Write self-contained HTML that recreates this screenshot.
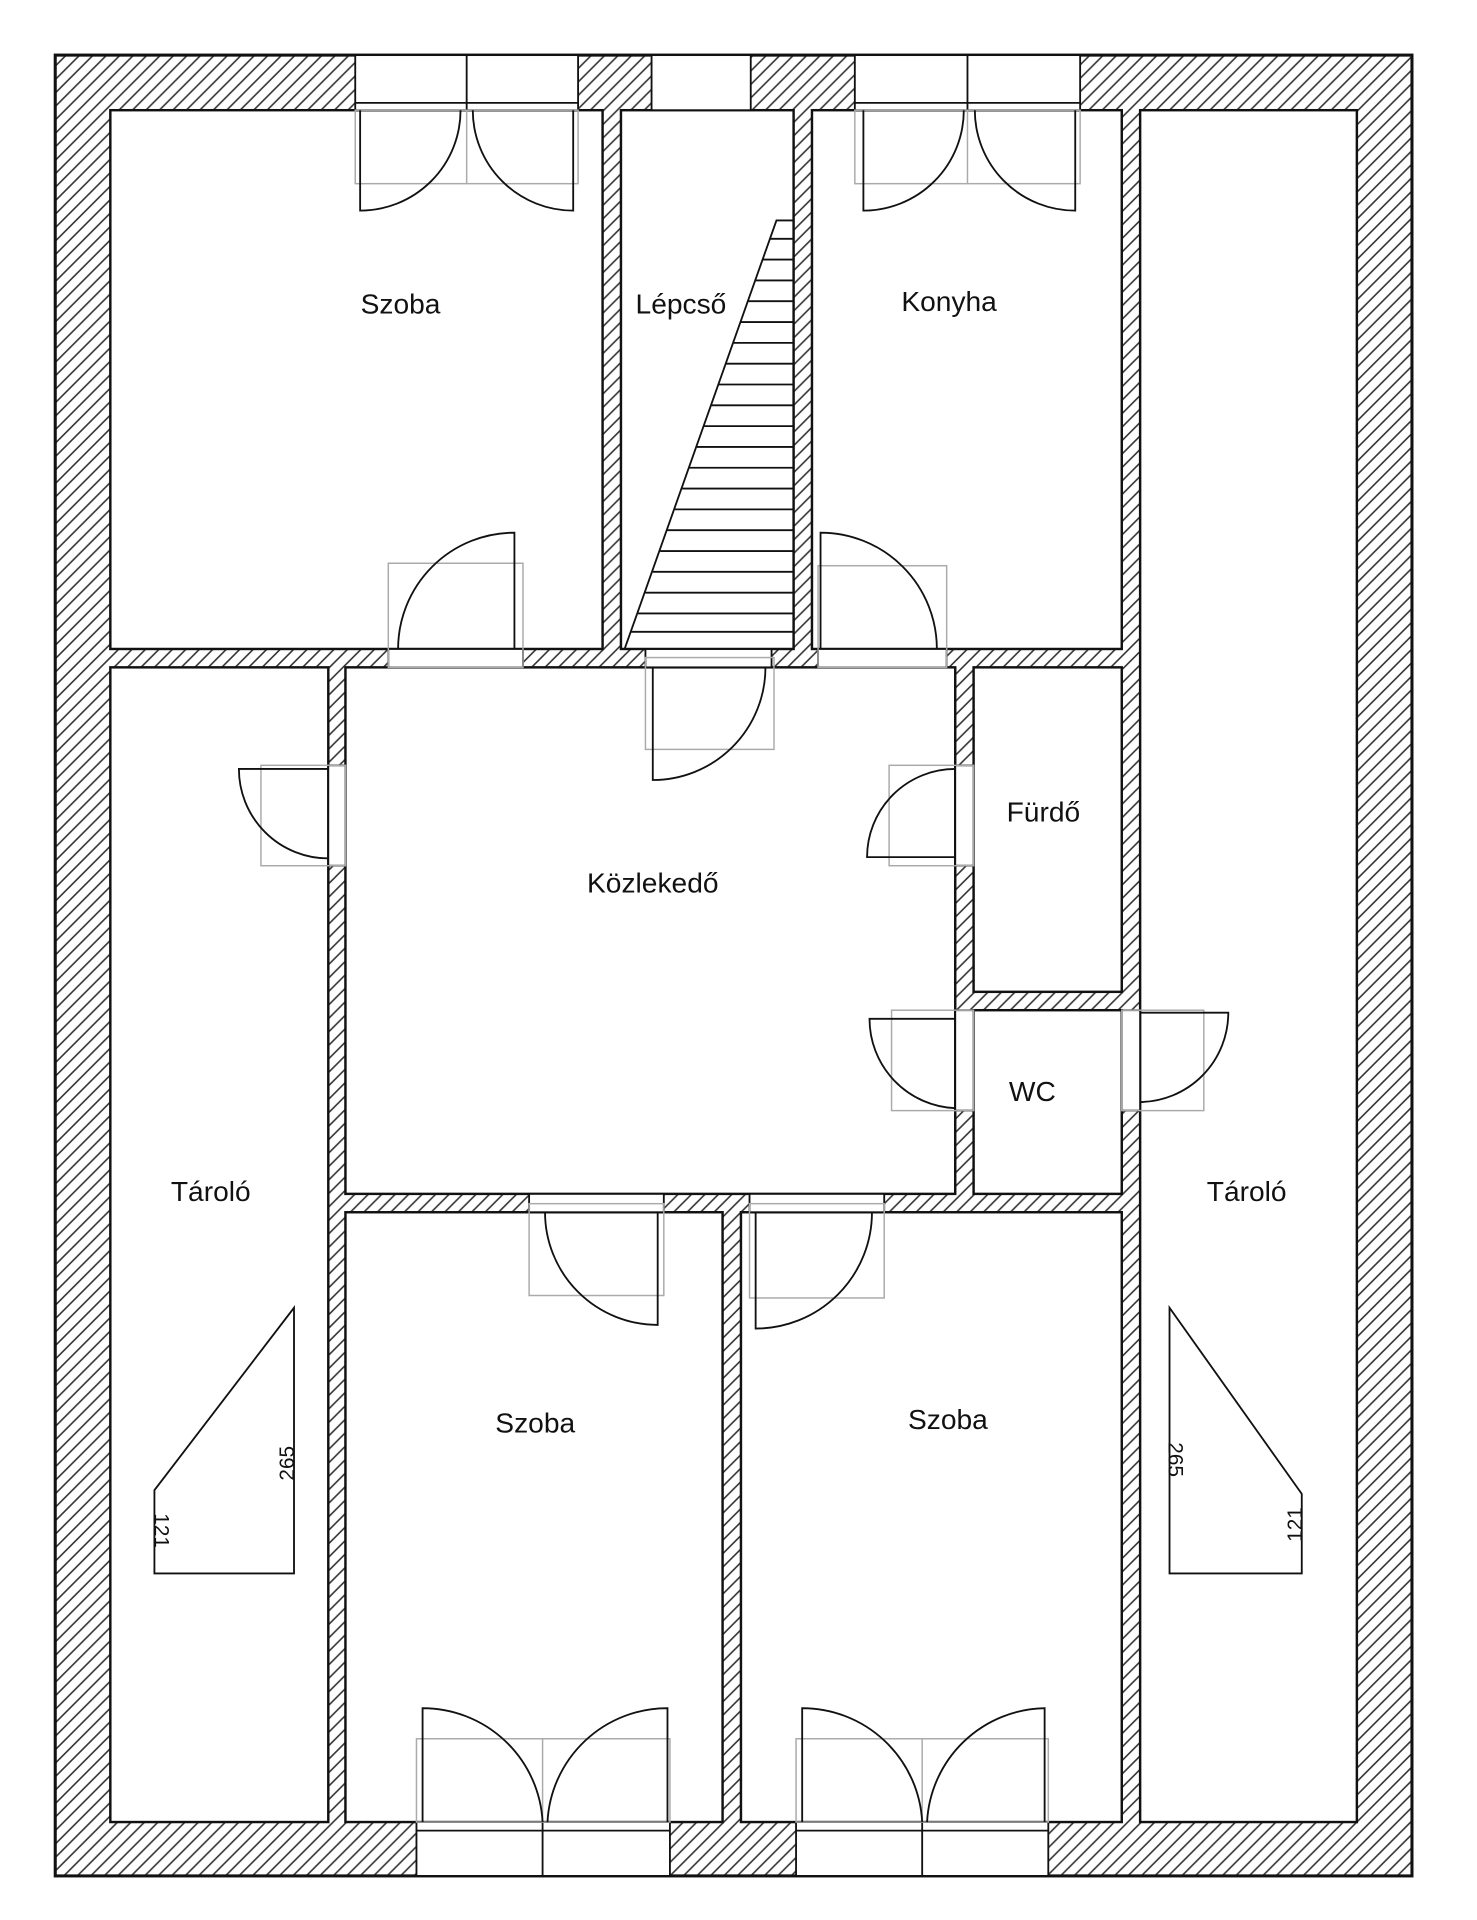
<!DOCTYPE html>
<html><head><meta charset="utf-8"><style>html,body{margin:0;padding:0;background:#fff}svg{display:block}</style></head><body>
<svg width="1477" height="1920" viewBox="0 0 1206 1568" xmlns="http://www.w3.org/2000/svg" font-family="Liberation Sans, sans-serif">
<defs><pattern id="h" width="11" height="11" patternUnits="userSpaceOnUse"><path d="M-1,12 L12,-1 M-6,6 L6,-6 M5,17 L17,5" stroke="#333" stroke-width="1.3"/></pattern></defs>
<rect x="45" y="45" width="1108" height="1487" fill="url(#h)" stroke="#111" stroke-width="2.5"/>
<g fill="#fff" stroke="#111" stroke-width="2">
<rect x="90" y="90" width="402" height="440"/>
<rect x="507" y="90" width="141" height="440"/>
<rect x="663" y="90" width="253" height="440"/>
<rect x="931" y="90" width="177" height="1398"/>
<rect x="90" y="545" width="178" height="943"/>
<rect x="282" y="545" width="498" height="430"/>
<rect x="795" y="545" width="121" height="265"/>
<rect x="795" y="825" width="121" height="150"/>
<rect x="282" y="990" width="308" height="498"/>
<rect x="605" y="990" width="311" height="498"/>
</g>
<g fill="#fff" stroke="#111" stroke-width="1.5">
<rect x="290" y="45" width="182" height="45"/><line x1="381" y1="45" x2="381" y2="90"/><line x1="290" y1="84" x2="472" y2="84"/>
<rect x="532" y="45" width="81" height="45"/>
<rect x="698" y="45" width="184" height="45"/><line x1="790" y1="45" x2="790" y2="90"/><line x1="698" y1="84" x2="882" y2="84"/>
<rect x="340" y="1488" width="207" height="44"/><line x1="443" y1="1488" x2="443" y2="1532"/><line x1="340" y1="1495" x2="547" y2="1495"/>
<rect x="650" y="1488" width="206" height="44"/><line x1="753" y1="1488" x2="753" y2="1532"/><line x1="650" y1="1495" x2="856" y2="1495"/>
<rect x="317" y="530" width="110" height="15"/>
<rect x="668" y="530" width="105" height="15"/>
<rect x="527" y="530" width="103" height="15"/>
<rect x="268" y="625" width="14" height="82"/>
<rect x="780" y="625" width="15" height="82"/>
<rect x="780" y="825" width="15" height="82"/>
<rect x="916" y="825" width="15" height="82"/>
<rect x="432" y="975" width="110" height="15"/>
<rect x="612" y="975" width="110" height="15"/>
</g>
<g fill="none" stroke="#aaa" stroke-width="1.2">
<rect x="290" y="90" width="182" height="60"/><line x1="381" y1="90" x2="381" y2="150"/>
<rect x="698" y="90" width="184" height="60"/><line x1="790" y1="90" x2="790" y2="150"/>
<rect x="317" y="460" width="110" height="85"/>
<rect x="668" y="462" width="105" height="83"/>
<rect x="527" y="537" width="105" height="75"/>
<rect x="213" y="625" width="69" height="82"/>
<rect x="726" y="625" width="69" height="82"/>
<rect x="728" y="825" width="67" height="82"/>
<rect x="916" y="825" width="67" height="82"/>
<rect x="432" y="983" width="110" height="75"/>
<rect x="612" y="983" width="110" height="77"/>
<rect x="340" y="1420" width="207" height="68"/><line x1="443" y1="1420" x2="443" y2="1488"/>
<rect x="650" y="1420" width="206" height="68"/><line x1="753" y1="1420" x2="753" y2="1488"/>
</g>
<g fill="none" stroke="#111" stroke-width="1.5">
<path d="M294,90 V172 A82,82 0 0 0 376,90"/>
<path d="M468,90 V172 A82,82 0 0 1 386,90"/>
<path d="M705,90 V172 A82,82 0 0 0 787,90"/>
<path d="M878,90 V172 A82,82 0 0 1 796,90"/>
<path d="M420,530 V435 A95,95 0 0 0 325,530"/>
<path d="M670,530 V435 A95,95 0 0 1 765,530"/>
<path d="M533,545 V637 A92,92 0 0 0 625,545"/>
<path d="M268,628 H195 A73,73 0 0 0 268,701"/>
<path d="M780,700 H708 A72,72 0 0 1 780,628"/>
<path d="M780,832 H710 A73,73 0 0 0 780,905"/>
<path d="M931,827 H1003 A73,73 0 0 1 931,900"/>
<path d="M537,990 V1082 A92,92 0 0 1 445,990"/>
<path d="M617,990 V1085 A95,95 0 0 0 712,990"/>
<path d="M345,1488 V1395 A98,98 0 0 1 443,1488"/>
<path d="M545,1488 V1395 A98,98 0 0 0 447,1488"/>
<path d="M655,1488 V1395 A98,98 0 0 1 753,1488"/>
<path d="M853,1488 V1395 A98,98 0 0 0 757,1488"/>
</g>
<g fill="none" stroke="#111" stroke-width="1.5">
<path d="M510,530 L634,180 H648"/>
<line x1="510" y1="530" x2="648" y2="530"/>
<line x1="629" y1="195" x2="648" y2="195"/><line x1="623" y1="212" x2="648" y2="212"/><line x1="617" y1="229" x2="648" y2="229"/><line x1="611" y1="246" x2="648" y2="246"/><line x1="605" y1="263" x2="648" y2="263"/><line x1="599" y1="280" x2="648" y2="280"/><line x1="593" y1="297" x2="648" y2="297"/><line x1="587" y1="314" x2="648" y2="314"/><line x1="581" y1="331" x2="648" y2="331"/><line x1="575" y1="348" x2="648" y2="348"/><line x1="569" y1="365" x2="648" y2="365"/><line x1="563" y1="382" x2="648" y2="382"/><line x1="557" y1="399" x2="648" y2="399"/><line x1="551" y1="416" x2="648" y2="416"/><line x1="545" y1="433" x2="648" y2="433"/><line x1="539" y1="450" x2="648" y2="450"/><line x1="533" y1="467" x2="648" y2="467"/><line x1="527" y1="484" x2="648" y2="484"/><line x1="521" y1="501" x2="648" y2="501"/><line x1="515" y1="516" x2="648" y2="516"/>
<path d="M240,1068 V1285 H126 V1217 Z"/>
<path d="M955,1068 V1285 H1063 V1220 Z"/>
</g>
<g font-size="23" fill="#111" text-anchor="middle">
<text x="327" y="256">Szoba</text>
<text x="556" y="256">Lépcső</text>
<text x="775" y="254">Konyha</text>
<text x="852" y="671">Fürdő</text>
<text x="533" y="729">Közlekedő</text>
<text x="843" y="899">WC</text>
<text x="172" y="981">Tároló</text>
<text x="1018" y="981">Tároló</text>
<text x="437" y="1170">Szoba</text>
<text x="774" y="1167">Szoba</text>
</g>
<g font-size="17" fill="#111" text-anchor="middle">
<text transform="translate(240,1195) rotate(-90)">265</text>
<text transform="translate(126,1250) rotate(90)">121</text>
<text transform="translate(954,1192) rotate(90)">265</text>
<text transform="translate(1063,1245) rotate(-90)">121</text>
</g>
</svg>
</body></html>
